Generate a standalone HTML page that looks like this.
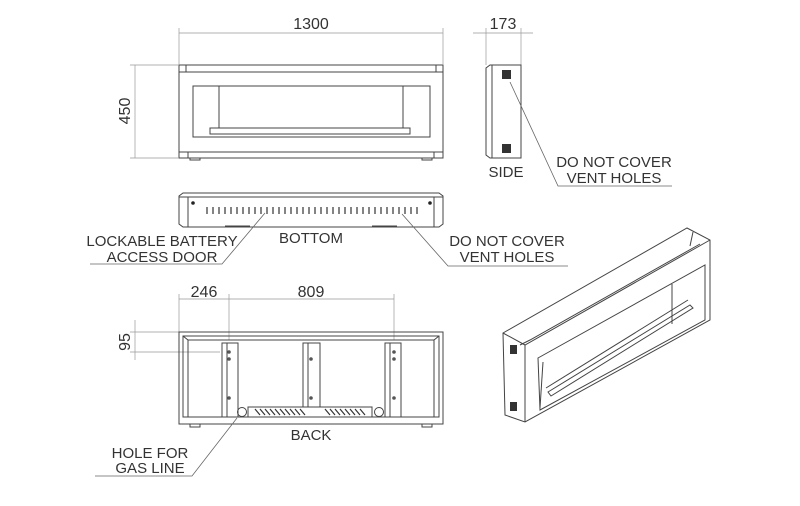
<!DOCTYPE html>
<html><head><style>body{margin:0;background:#fff}svg{display:block}text{font-family:"Liberation Sans",sans-serif;fill:#333}</style></head><body>
<svg width="800" height="506" viewBox="0 0 800 506" xmlns="http://www.w3.org/2000/svg">
<g fill="none" stroke="#444" stroke-width="1">
<rect x="179" y="65" width="264" height="93"/>
<line x1="179" y1="72" x2="443" y2="72"/>
<line x1="186" y1="65" x2="186" y2="72"/><line x1="436" y1="65" x2="436" y2="72"/>
<rect x="193" y="86" width="237" height="51"/>
<line x1="219" y1="86" x2="219" y2="128"/><line x1="403" y1="86" x2="403" y2="128"/>
<rect x="210" y="128" width="200" height="6"/>
<line x1="179" y1="152" x2="443" y2="152"/>
<line x1="188" y1="152" x2="188" y2="158"/><line x1="434" y1="152" x2="434" y2="158"/>
<rect x="190" y="158" width="10" height="2"/><rect x="422" y="158" width="10" height="2"/>
</g>
<g fill="none" stroke="#999" stroke-width="0.7">
<line x1="179" y1="28" x2="179" y2="65"/><line x1="443" y1="28" x2="443" y2="65"/>
<line x1="179" y1="33" x2="443" y2="33"/>
<line x1="130" y1="65" x2="179" y2="65"/><line x1="130" y1="158" x2="179" y2="158"/>
<line x1="135" y1="65" x2="135" y2="158"/>
<line x1="486" y1="28" x2="486" y2="65"/><line x1="521" y1="28" x2="521" y2="65"/>
<line x1="473" y1="33" x2="533" y2="33"/>
<line x1="179" y1="294" x2="179" y2="332"/><line x1="229" y1="294" x2="229" y2="340"/><line x1="394" y1="294" x2="394" y2="340"/>
<line x1="179" y1="299" x2="394" y2="299"/>
<line x1="130" y1="332" x2="179" y2="332"/><line x1="130" y1="352" x2="220" y2="352"/>
<line x1="135" y1="320" x2="135" y2="360"/>
</g>
<text x="311" y="29" font-size="16" text-anchor="middle">1300</text>
<text x="503" y="29" font-size="16" text-anchor="middle">173</text>
<text transform="translate(130,111) rotate(-90)" font-size="16" text-anchor="middle">450</text>
<text x="204" y="297" font-size="16" text-anchor="middle">246</text>
<text x="311" y="297" font-size="16" text-anchor="middle">809</text>
<text transform="translate(130,342) rotate(-90)" font-size="16" text-anchor="middle">95</text>
<g fill="none" stroke="#444">
<path d="M486 68 L490 65 L521 65 L521 158 L490 158 L486 155 Z"/>
<line x1="492" y1="65" x2="492" y2="158"/>
</g>
<rect x="502" y="70" width="9" height="9" fill="#333"/><rect x="502" y="144" width="9" height="9" fill="#333"/>
<polyline points="510,82 558,186 672,186" fill="none" stroke="#666" stroke-width="0.8"/>
<text x="506" y="177" font-size="15" text-anchor="middle">SIDE</text>
<text x="614" y="167" font-size="15" text-anchor="middle">DO NOT COVER</text>
<text x="614" y="183" font-size="15" text-anchor="middle">VENT HOLES</text>
<g fill="none" stroke="#444">
<path d="M179 196 L183 193 L439 193 L443 196 L443 224 L439 227 L183 227 L179 224 Z"/>
<line x1="179" y1="197" x2="443" y2="197"/>
<line x1="188" y1="197" x2="188" y2="227"/><line x1="434" y1="197" x2="434" y2="227"/>
<line x1="225" y1="226" x2="250" y2="226"/><line x1="372" y1="226" x2="397" y2="226"/>
</g>
<circle cx="193" cy="203" r="1.8" fill="#222"/><circle cx="430" cy="203" r="1.8" fill="#222"/>
<g stroke="#333" stroke-width="1.2">
<path d="M207 207v7M213 207v7M219 207v7M225 207v7M231 207v7M237 207v7M243 207v7M249 207v7M255 207v7M261 207v7M267 207v7M273 207v7M279 207v7M285 207v7M291 207v7M297 207v7M303 207v7M309 207v7M315 207v7M321 207v7M327 207v7M333 207v7M339 207v7M345 207v7M351 207v7M357 207v7M363 207v7M369 207v7M375 207v7M381 207v7M387 207v7M393 207v7M399 207v7M405 207v7M411 207v7M417 207v7"/>
</g>
<text x="311" y="243" font-size="15" text-anchor="middle">BOTTOM</text>
<polyline points="265,213 222,264 90,264" fill="none" stroke="#666" stroke-width="0.8"/>
<polyline points="402,214 448,266 568,266" fill="none" stroke="#666" stroke-width="0.8"/>
<text x="162" y="246" font-size="15" text-anchor="middle">LOCKABLE BATTERY</text>
<text x="162" y="262" font-size="15" text-anchor="middle">ACCESS DOOR</text>
<text x="507" y="246" font-size="15" text-anchor="middle">DO NOT COVER</text>
<text x="507" y="262" font-size="15" text-anchor="middle">VENT HOLES</text>
<g fill="none" stroke="#444">
<rect x="179" y="332" width="264" height="92"/>
<rect x="183" y="336" width="256" height="81"/>
<path d="M183 336 L188 340 L434 340 L439 336"/>
<line x1="188" y1="340" x2="188" y2="417"/><line x1="434" y1="340" x2="434" y2="417"/>
<rect x="222" y="343" width="16" height="74"/><line x1="227" y1="343" x2="227" y2="417"/>
<rect x="303" y="343" width="17" height="64"/><line x1="308" y1="343" x2="308" y2="407"/>
<rect x="385" y="343" width="16" height="74"/><line x1="390" y1="343" x2="390" y2="417"/>
<rect x="248" y="407" width="124" height="10"/>
<circle cx="242" cy="412" r="4.5"/><circle cx="379" cy="412" r="4.5"/>
<rect x="190" y="424" width="10" height="3"/><rect x="422" y="424" width="10" height="3"/>
</g>
<g fill="#555"><circle cx="229" cy="352" r="1.8"/><circle cx="229" cy="359" r="1.8"/><circle cx="229" cy="398" r="1.8"/>
<circle cx="311" cy="359" r="1.8"/><circle cx="311" cy="398" r="1.8"/>
<circle cx="394" cy="352" r="1.8"/><circle cx="394" cy="359" r="1.8"/><circle cx="394" cy="398" r="1.8"/></g>
<path d="M255 409 l5 6 M260 409 l5 6 M265 409 l5 6 M270 409 l5 6 M275 409 l5 6 M280 409 l5 6 M285 409 l5 6 M290 409 l5 6 M295 409 l5 6 M300 409 l5 6 M325 409 l5 6 M330 409 l5 6 M335 409 l5 6 M340 409 l5 6 M345 409 l5 6 M350 409 l5 6 M355 409 l5 6 M360 409 l5 6" stroke="#333" stroke-width="1.2"/>
<text x="311" y="440" font-size="15" text-anchor="middle">BACK</text>
<polyline points="237,418 192,476 95,476" fill="none" stroke="#666" stroke-width="0.8"/>
<text x="150" y="458" font-size="15" text-anchor="middle">HOLE FOR</text>
<text x="150" y="473" font-size="15" text-anchor="middle">GAS LINE</text>
<g fill="none" stroke="#444">
<path d="M503 333 L687 228 L710 240 L710 320 L525 422 L505 415 Z"/>
<path d="M503 333 L525 345 L710 240"/>
<path d="M525 345 L525 422"/>
<path d="M520 345 L530 340 L700 244"/>
<path d="M538 358 L705 265 L705 320 L540 410 Z"/>
<path d="M543 362 L540 408"/>
<path d="M672 284 L672 324"/>
<path d="M548 392 L690 305 L693 308 L551 396 Z"/>
<path d="M546 388 L688 300"/>
<path d="M693 232 L690 246"/>
</g>
<rect x="510" y="345" width="7" height="9" fill="#333"/><rect x="510" y="402" width="7" height="9" fill="#333"/>
</svg>
</body></html>
